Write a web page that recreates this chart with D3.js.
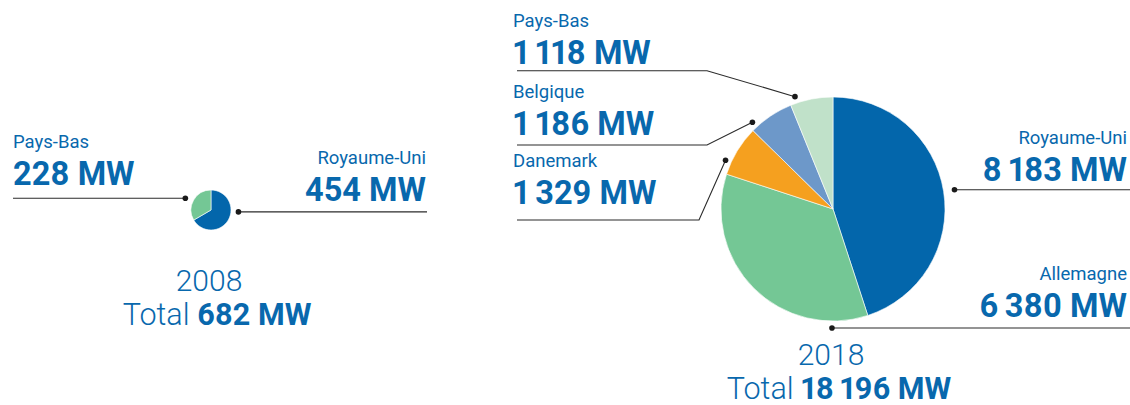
<!DOCTYPE html>
<html>
<head>
<meta charset="utf-8">
<script src="https://cdn.jsdelivr.net/npm/d3@7"></script>
<style>
  html, body { margin: 0; padding: 0; background: #fff; }
  svg { display: block; font-family: Roboto, "Noto Sans", sans-serif; }
  .num { font-feature-settings: "pnum" 1; font-variant-numeric: proportional-nums; }
</style>
</head>
<body>
<svg width="1130" height="405"></svg>
<script>
// data
var countries2008 = ["Royaume-Uni", "Pays-Bas"];
var values2008 = [454, 228];
var countries2018 = ["Royaume-Uni", "Allemagne", "Danemark", "Belgique", "Pays-Bas"];
var values2018 = [8183, 6380, 1329, 1186, 1118];
var years = ["2008", "2018"];

var colors = {
  "Royaume-Uni": "#0366ab",
  "Allemagne": "#74c795",
  "Danemark": "#f5a01f",
  "Belgique": "#6d98c9",
  "Pays-Bas": "#c0e1c9"
};
var colors2008 = { "Royaume-Uni": "#0366ab", "Pays-Bas": "#74c795" };

var textBlue = "#0868ad";
var lineColor = "#2b2b2b";

var fr = d3.formatLocale({ decimal: ",", thousands: "\u2009", grouping: [3], currency: ["", " €"] });
var fmt = fr.format(",");

var svg = d3.select("svg");

// label layout: angle of the dot (deg, clockwise from top), dot radius,
// side of the text, text x, value baseline, line y (for elbows), elbow x
var layout2008 = {
  "Royaume-Uni": { a: 94, r: 27.5, side: "right", x: 426, vy: 201, end: 427 },
  "Pays-Bas": { a: 294.5, r: 28.2, side: "left", x: 13, vy: 185, end: 13 }
};
var layout2018 = {
  "Royaume-Uni": { a: 81, r: 123, side: "right", x: 1127, vy: 181, end: 1130 },
  "Allemagne": { a: 180.5, r: 119, side: "right", x: 1127, vy: 317, end: 1130 },
  "Danemark": { a: 294.4, r: 118, side: "left", x: 513, vy: 204, end: 517, ly: 220, ex: 699 },
  "Belgique": { a: 317.1, r: 118.4, side: "left", x: 513, vy: 135, end: 517, ly: 145, ex: 707 },
  "Pays-Bas": { a: 341.3, r: 118.6, side: "left", x: 513, vy: 64, end: 517, ly: 70.7, ex: 707 }
};

function drawPie(cx, cy, radius, names, values, palette, lay, year, titleY) {
  var g = svg.append("g");
  var data = names.map(function(n, i) { return { name: n, value: values[i] }; });
  var pie = d3.pie().sort(null).value(function(d) { return d.value; });
  var arc = d3.arc().innerRadius(0).outerRadius(radius);

  g.append("g")
    .attr("transform", "translate(" + cx + "," + cy + ")")
    .selectAll("path")
    .data(pie(data))
    .enter()
    .append("path")
    .attr("d", arc)
    .attr("fill", function(d) { return palette[d.data.name]; })
    .attr("stroke", "#fff")
    .attr("stroke-width", 0.6);

  data.forEach(function(d) {
    var L = lay[d.name];
    var ang = L.a * Math.PI / 180;
    var dx = cx + L.r * Math.sin(ang);
    var dy = cy - L.r * Math.cos(ang);
    var pts;
    if (L.ex !== undefined) {
      pts = [[dx, dy], [L.ex, L.ly], [L.end, L.ly]];
    } else {
      pts = [[dx, dy], [L.end, dy]];
    }
    g.append("path")
      .attr("d", d3.line()(pts))
      .attr("fill", "none")
      .attr("stroke", lineColor)
      .attr("stroke-width", 1.1);
    g.append("circle")
      .attr("cx", dx).attr("cy", dy).attr("r", 2.8)
      .attr("fill", "#1a1a1a");

    var anchor = L.side === "right" ? "end" : "start";
    g.append("text")
      .attr("x", L.x).attr("y", L.vy - 37.5)
      .attr("text-anchor", anchor)
      .attr("font-size", 18.5)
      .attr("fill", textBlue)
      .text(d.name);
    g.append("text")
      .attr("class", "num")
      .attr("x", L.x).attr("y", L.vy)
      .attr("text-anchor", anchor)
      .attr("font-size", 32.5)
      .attr("font-weight", 700)
      .attr("fill", textBlue)
      .text(fmt(d.value) + " MW");
  });

  var total = d3.sum(values);
  g.append("text")
    .attr("x", cx - 2).attr("y", titleY)
    .attr("text-anchor", "middle")
    .attr("font-size", 30)
    .attr("font-weight", 300)
    .attr("fill", textBlue)
    .text(year);
  var t = g.append("text")
    .attr("class", "num")
    .attr("x", cx + 6).attr("y", titleY + 34)
    .attr("text-anchor", "middle")
    .attr("font-size", 30.5)
    .attr("fill", textBlue);
  t.append("tspan").attr("font-weight", 300).text("Total ");
  t.append("tspan").attr("font-weight", 700).text(fmt(total) + " MW");
}

drawPie(211, 210, 20, countries2008, values2008, colors2008, layout2008, years[0], 291);
drawPie(833, 209, 112, countries2018, values2018, colors, layout2018, years[1], 364.5);
</script>
</body>
</html>
